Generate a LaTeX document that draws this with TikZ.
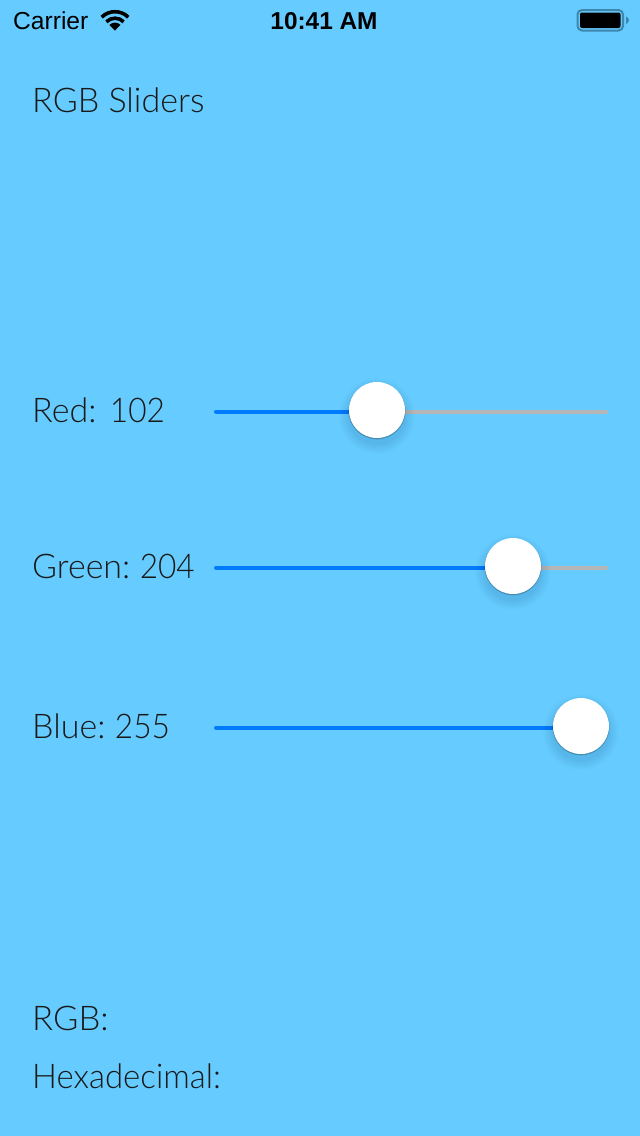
\documentclass[tikz,border=0pt]{standalone}
\usepackage{fontspec}
\setmainfont{Liberation Sans}
\newfontfamily\lightfont[FakeStretch=1.018]{Lato Light}
\newfontfamily\titlefont[FakeStretch=1.002]{Lato Light}
\newfontfamily\lightnarrow[FakeStretch=0.97]{Lato Light}
\newfontfamily\lighttight[WordSpace=0.7]{Lato Light}
\newfontfamily\digitfont[FakeStretch=0.93]{Lato Light}
\newcommand{\dg}[1]{{\digitfont #1}}
\definecolor{bgblue}{HTML}{66CCFF}
\definecolor{trackblue}{HTML}{007AFF}
\definecolor{trackgrey}{HTML}{B6B6B6}
\definecolor{battframe}{HTML}{3D86AD}
\tikzset{
  label text/.style={anchor=base west,inner sep=0pt,text=black!90,font=\lightfont\fontsize{34}{34}\selectfont},
  title text/.style={label text,font=\titlefont\fontsize{34}{34}\selectfont},
  value text/.style={label text,font=\lighttight\fontsize{34}{34}\selectfont},
  narrow text/.style={label text,font=\lightnarrow\fontsize{34}{34}\selectfont},
  status text/.style={inner sep=0pt,text=black},
  thumb/.style={circle,fill=white,minimum size=56pt,inner sep=0pt},
  track on/.style={draw=trackblue,line width=4pt,line cap=round},
  track off/.style={draw=trackgrey,line width=4pt,line cap=round},
}
\newcommand{\thumbshadow}[2]{%
  \foreach \r in {29,30.5,...,38}{
    \fill[black,opacity=0.010] (#1,#2+6) circle[radius=\r pt];
  }
  \fill[black,opacity=0.22] (#1,#2+0.8) circle[radius=28.5pt];
}
\begin{document}
\begin{tikzpicture}[x=1pt,y=-1pt]
\useasboundingbox (0,0) rectangle (640,1136);
\fill[bgblue] (0,0) rectangle (640,1136);

% status bar
\node[status text,anchor=base west,font=\fontsize{24.6}{24}\selectfont] (carrier) at (13,29) {Carrier};
\node[status text,anchor=base,font=\bfseries\fontsize{24.4}{24}\selectfont] (clock) at (324,29) {10:41 AM};
\begin{scope}[shift={(115,30.5)},y=1pt]
  \fill[black] (0,0) -- (-5.6,5.6) arc[start angle=135,end angle=45,radius=7.9] -- cycle;
  \draw[black,line width=3.6pt] (-8.7,8.7) arc[start angle=135,end angle=45,radius=12.3];
  \draw[black,line width=3.6pt] (-13.3,13.3) arc[start angle=135,end angle=45,radius=18.8];
\end{scope}
\draw[battframe,line width=2pt,rounded corners=4.5pt] (577.5,10) rectangle (623,30.5);
\fill[black,rounded corners=2pt] (580,12.5) rectangle (620.5,28);
\fill[battframe] (626,16.5) -- (628,18) -- (629,20) -- (628,22.5) -- (626,24) -- cycle;

% labels
\node[title text] (title) at (32,112) {RGB Sliders};
\node[value text] (redlabel) at (32,422) {Red:\hspace{4pt} \dg{102}};
\node[value text] (greenlabel) at (32,578) {Green: \dg{204}};
\node[value text] (bluelabel) at (32,738) {Blue: \dg{255}};
\node[label text] (rgblabel) at (32,1030) {RGB:};
\node[narrow text] (hexlabel) at (32,1088) {Hexadecimal:};

% red slider
\coordinate (redstart) at (216,411.5);
\coordinate (redend) at (606,411.5);
\draw[track off] (377,411.5) -- (redend);
\draw[track on] (redstart) -- (377,411.5);
\thumbshadow{377}{410}
\node[thumb] (redthumb) at (377,410) {};

% green slider
\coordinate (greenstart) at (216,567.5);
\coordinate (greenend) at (606,567.5);
\draw[track off] (513,567.5) -- (greenend);
\draw[track on] (greenstart) -- (513,567.5);
\thumbshadow{513}{566}
\node[thumb] (greenthumb) at (513,566) {};

% blue slider
\coordinate (bluestart) at (216,727.5);
\draw[track on] (bluestart) -- (581,727.5);
\thumbshadow{581}{726}
\node[thumb] (bluethumb) at (581,726) {};
\end{tikzpicture}
\end{document}
